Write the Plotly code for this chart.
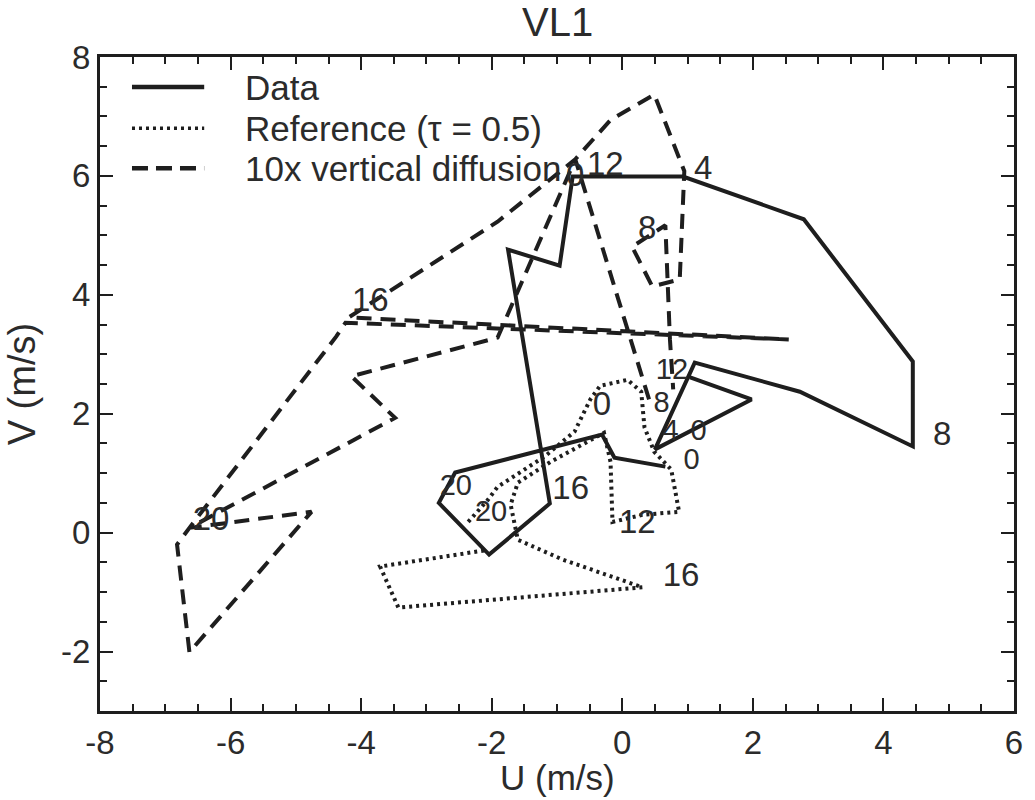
import plotly.graph_objects as go

# ---- data ----
data_u = [0.66, -0.12, -0.31, -2.56, -2.81, -2.04, -1.11, -1.75, -0.96, -0.76, 0.93, 2.78, 4.45, 4.45, 2.72, 1.11, 0.50, 1.98, 1.04]
data_v = [1.11, 1.26, 1.65, 1.01, 0.50, -0.37, 0.49, 4.76, 4.49, 5.99, 5.99, 5.27, 2.88, 1.45, 2.37, 2.86, 1.40, 2.24, 2.61]

ref_u = [-2.36, -2.06, -1.91, -1.19, -0.73, -0.49, -0.34, 0.08, 0.29, 0.34, 0.49, 0.75, 0.87, 0.31, -0.15,
         -0.18, -0.28, -1.10, -1.60, -1.71, -1.60, -0.92, 0.31, -3.43, -3.71, -2.06]
ref_v = [0.18, 0.55, 0.77, 1.28, 1.70, 2.24, 2.47, 2.57, 2.37, 1.77, 1.36, 1.06, 0.35, 0.30, 0.18,
         1.19, 1.68, 1.19, 0.84, 0.47, -0.12, -0.45, -0.92, -1.26, -0.57, -0.29]

diff_u = [0.41, -0.72, -1.91, -4.15, -3.48, -6.63, -4.76, -6.63, -6.82, -6.63, -4.38, -4.24, 2.55, -4.19,
          -1.91, -0.72, -0.18, 0.49, 0.95, 0.88, 0.46, 0.15, 0.66, 0.73, 0.78]
diff_v = [2.24, 6.28, 3.28, 2.63, 1.93, 0.08, 0.35, -2.01, -0.20, 0.08, 3.30, 3.53, 3.25, 3.62,
          5.23, 6.28, 6.94, 7.37, 6.08, 4.26, 4.14, 4.81, 5.17, 3.25, 2.41]

# hour labels drawn on the hodographs (open area)
label_u = [-0.31, 4.90, 1.24, -0.72, -0.26, 0.38, -3.86, -6.30, -0.79, 0.90, 0.23]
label_v = [2.12, 1.61, 6.08, 5.97, 6.16, 5.07, 3.87, 0.18, 0.71, -0.76, 0.13]
label_text = ["0", "8", "4", "0", "12", "8", "16", "20", "16", "16", "12"]

# hour labels in the crowded spots
cluster_u = [0.76, 0.60, 0.74, 1.17, 1.06, -2.55, -2.01]
cluster_v = [2.71, 2.15, 1.68, 1.68, 1.19, 0.75, 0.31]
cluster_text = ["12", "8", "4", "0", "0", "20", "20"]

x_ticks = [-8, -6, -4, -2, 0, 2, 4, 6]
x_ticktext = ["-8", "-6", "-4", "-2", "0", "2", "4", "6"]
y_ticks = [-2, 0, 2, 4, 6, 8]
y_ticktext = ["-2", "0", "2", "4", "6", "8"]

series_names = ["Data", "Reference (\u03c4 = 0.5)", "10x vertical diffusion"]

INK = "#1e1e1e"
TXT = "#2b2b2b"
FONT = "Liberation Sans, Arial, Helvetica, sans-serif"

fig = go.Figure()
fig.add_trace(go.Scatter(x=data_u, y=data_v, mode="lines", name=series_names[0],
                         line=dict(color=INK, width=4), showlegend=False))
fig.add_trace(go.Scatter(x=ref_u, y=ref_v, mode="lines", name=series_names[1],
                         line=dict(color=INK, width=4, dash="3px,4px"), showlegend=False))
fig.add_trace(go.Scatter(x=diff_u, y=diff_v, mode="lines", name=series_names[2],
                         line=dict(color=INK, width=4, dash="15px,9px"), showlegend=False))
fig.add_trace(go.Scatter(x=label_u, y=label_v, mode="text", text=label_text,
                         textposition="middle center",
                         textfont=dict(family=FONT, size=33, color=TXT), showlegend=False))
fig.add_trace(go.Scatter(x=cluster_u, y=cluster_v, mode="text", text=cluster_text,
                         textposition="middle center",
                         textfont=dict(family=FONT, size=29, color=TXT), showlegend=False))

# manual legend (paper coordinates)
leg_y = [0.954, 0.891, 0.830]
leg_dash = ["solid", "3px,4px", "16px,8px"]
leg_w = [4.5, 3.5, 4.5]
for yy, nm, ds, w in zip(leg_y, series_names, leg_dash, leg_w):
    fig.add_shape(type="line", xref="paper", yref="paper", x0=0.035, x1=0.114, y0=yy, y1=yy,
                  line=dict(color=INK, width=w, dash=ds))
    fig.add_annotation(xref="paper", yref="paper", x=0.156, y=yy, text=nm, showarrow=False,
                       xanchor="left", yanchor="middle", font=dict(family=FONT, size=35, color=TXT))

# titles
fig.add_annotation(xref="paper", yref="paper", x=0.5, y=1.053, text="VL1", showarrow=False,
                   xanchor="center", yanchor="middle", font=dict(family=FONT, size=40, color=TXT))
fig.add_annotation(xref="paper", yref="paper", x=0.5, y=-0.1015, text="U (m/s)", showarrow=False,
                   xanchor="center", yanchor="middle", font=dict(family=FONT, size=35, color=TXT))
fig.add_annotation(xref="paper", yref="paper", x=-0.085, y=0.5, text="V (m/s)", showarrow=False,
                   textangle=-90, xanchor="center", yanchor="middle", font=dict(family=FONT, size=38, color=TXT))

axis_common = dict(showgrid=False, zeroline=False, showline=True, linewidth=3, linecolor=INK,
                   mirror="allticks", ticks="inside", ticklen=13, tickwidth=2, tickcolor=INK,
                   tickfont=dict(family=FONT, size=33, color=TXT),
                   minor=dict(dtick=0.5, ticks="inside", ticklen=7, tickwidth=2, tickcolor=INK, showgrid=False))

fig.update_xaxes(range=[-8, 6], tickmode="array", tickvals=x_ticks, ticktext=x_ticktext, **axis_common)
fig.update_yaxes(range=[-3, 8], tickmode="array", tickvals=y_ticks, ticktext=y_ticktext, **axis_common)

fig.update_layout(width=1035, height=800, margin=dict(l=100, r=17, t=57, b=89),
                  paper_bgcolor="white", plot_bgcolor="white", showlegend=False,
                  font=dict(family=FONT, color=TXT))

fig.write_html("out.html")
